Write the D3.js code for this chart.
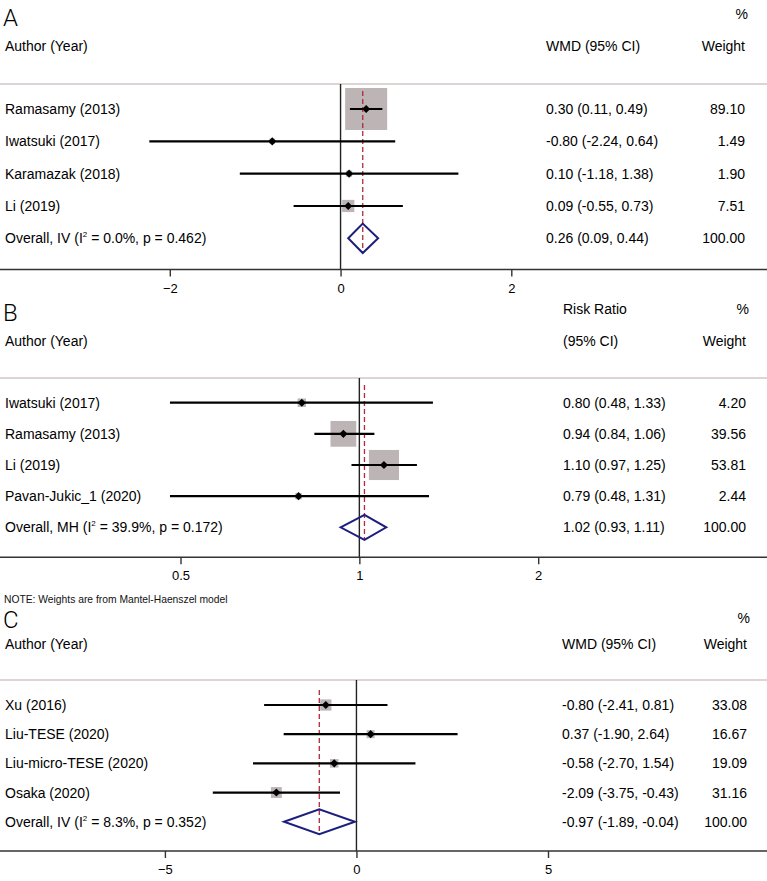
<!DOCTYPE html>
<html><head><meta charset="utf-8">
<script src="https://cdn.jsdelivr.net/npm/d3@7/dist/d3.min.js"></script>
<style>
html,body{margin:0;padding:0;background:#fff;}
svg{display:block;}
</style></head>
<body>
<svg id="chart" width="767" height="881"></svg>
<script>
// ---------- DATA ----------
// Panel A
const panelA_studies = ["Ramasamy (2013)", "Iwatsuki (2017)", "Karamazak (2018)", "Li (2019)"];
const panelA_est = [0.30, -0.80, 0.10, 0.09];
const panelA_lo = [0.11, -2.24, -1.18, -0.55];
const panelA_hi = [0.49, 0.64, 1.38, 0.73];
const panelA_weight = [89.10, 1.49, 1.90, 7.51];
const panelA_overall = [0.26, 0.09, 0.44];           // est, lo, hi
const panelA_overallLabel = ["Overall, IV", "0.0%", "0.462"];
const panelA_ticks = [-2, 0, 2];
const panelA_header = ["WMD (95% CI)"];

// Panel B
const panelB_studies = ["Iwatsuki (2017)", "Ramasamy (2013)", "Li (2019)", "Pavan-Jukic_1 (2020)"];
const panelB_est = [0.80, 0.94, 1.10, 0.79];
const panelB_lo = [0.48, 0.84, 0.97, 0.48];
const panelB_hi = [1.33, 1.06, 1.25, 1.31];
const panelB_weight = [4.20, 39.56, 53.81, 2.44];
const panelB_overall = [1.02, 0.93, 1.11];
const panelB_overallLabel = ["Overall, MH", "39.9%", "0.172"];
const panelB_ticks = [0.5, 1, 2];
const panelB_header = ["Risk Ratio", "(95% CI)"];
const panelB_note = "NOTE: Weights are from Mantel-Haenszel model";

// Panel C
const panelC_studies = ["Xu (2016)", "Liu-TESE (2020)", "Liu-micro-TESE (2020)", "Osaka (2020)"];
const panelC_est = [-0.80, 0.37, -0.58, -2.09];
const panelC_lo = [-2.41, -1.90, -2.70, -3.75];
const panelC_hi = [0.81, 2.64, 1.54, -0.43];
const panelC_weight = [33.08, 16.67, 19.09, 31.16];
const panelC_overall = [-0.97, -1.89, -0.04];
const panelC_overallLabel = ["Overall, IV", "8.3%", "0.352"];
const panelC_ticks = [-5, 0, 5];
const panelC_header = ["WMD (95% CI)"];

// ---------- DRAWING ----------
const FONT = "'Liberation Sans', Arial, Helvetica, sans-serif";
const FS = 14;
const svg = d3.select("#chart");
const W = 767;
const fmt = v => v.toFixed(2);

function drawPanel(p) {
  const g = svg.append("g");
  const n = p.studies.length;
  const x = (p.log ? d3.scaleLog() : d3.scaleLinear()).domain(p.domain).range(p.xRange);
  const y = d3.scalePoint().domain(d3.range(n + 1)).range([p.rowTop, p.rowBot]);

  // panel letter
  g.append("text").attr("x", 3).attr("y", p.letterY)
    .attr("font-family", "Roboto, " + FONT).attr("font-weight", 300)
    .attr("font-size", 24).attr("fill", "#000").text(p.letter);

  // headers
  g.append("text").attr("x", p.wRight + 3).attr("y", p.pctY).attr("text-anchor", "end")
    .attr("font-family", FONT).attr("font-size", FS).text("%");
  g.append("text").attr("x", 5).attr("y", p.hdrY)
    .attr("font-family", FONT).attr("font-size", FS).text("Author (Year)");
  g.append("text").attr("x", p.wRight).attr("y", p.hdrY).attr("text-anchor", "end")
    .attr("font-family", FONT).attr("font-size", FS).text("Weight");
  if (p.header.length === 2) {
    g.append("text").attr("x", p.ciX).attr("y", p.pctY)
      .attr("font-family", FONT).attr("font-size", FS).text(p.header[0]);
    g.append("text").attr("x", p.ciX).attr("y", p.hdrY)
      .attr("font-family", FONT).attr("font-size", FS).text(p.header[1]);
  } else {
    g.append("text").attr("x", p.ciX).attr("y", p.hdrY)
      .attr("font-family", FONT).attr("font-size", FS).text(p.header[0]);
  }

  // separator line
  g.append("line").attr("x1", 0).attr("x2", W).attr("y1", p.sepY).attr("y2", p.sepY)
    .attr("stroke", "#dcd5d3").attr("stroke-width", 2);

  // null line
  g.append("line").attr("x1", x(p.nullV)).attr("x2", x(p.nullV))
    .attr("y1", p.sepY).attr("y2", p.axisY)
    .attr("stroke", "#222").attr("stroke-width", 1.4);

  const idx = d3.range(n);
  // boxes
  g.selectAll(".box").data(idx).join("rect")
    .attr("x", i => x(p.est[i]) - p.boxK * Math.sqrt(p.weight[i]) / 2)
    .attr("y", i => y(i) - p.boxK * Math.sqrt(p.weight[i]) / 2)
    .attr("width", i => p.boxK * Math.sqrt(p.weight[i]))
    .attr("height", i => p.boxK * Math.sqrt(p.weight[i]))
    .attr("fill", "#bdb5b5");

  // overall reference dashed line
  g.append("line").attr("x1", x(p.overall[0])).attr("x2", x(p.overall[0]))
    .attr("y1", p.refTop).attr("y2", p.refBot)
    .attr("stroke", "#b02a3a").attr("stroke-width", 1.3).attr("stroke-dasharray", "5,3");

  // CI lines
  g.selectAll(".ci").data(idx).join("line")
    .attr("x1", i => x(p.lo[i])).attr("x2", i => x(p.hi[i]))
    .attr("y1", i => y(i)).attr("y2", i => y(i))
    .attr("stroke", "#000").attr("stroke-width", 2.2);

  // markers
  g.selectAll(".pt").data(idx).join("path")
    .attr("transform", i => `translate(${x(p.est[i])},${y(i)})`)
    .attr("d", d3.symbol(d3.symbolDiamond2, 42))
    .attr("fill", "#000");

  // overall diamond
  const oy = y(n);
  const dpath = d3.line()([
    [x(p.overall[1]), oy], [x(p.overall[0]), oy - p.diaH],
    [x(p.overall[2]), oy], [x(p.overall[0]), oy + p.diaH]
  ]) + "Z";
  g.append("path").attr("d", dpath).attr("fill", "none")
    .attr("stroke", "#1c1f7e").attr("stroke-width", 2);

  // study labels & stats
  idx.forEach(i => {
    g.append("text").attr("x", 5).attr("y", y(i) + 5)
      .attr("font-family", FONT).attr("font-size", FS).text(p.studies[i]);
    g.append("text").attr("x", p.ciX).attr("y", y(i) + 5)
      .attr("font-family", FONT).attr("font-size", FS)
      .text(`${fmt(p.est[i])} (${fmt(p.lo[i])}, ${fmt(p.hi[i])})`);
    g.append("text").attr("x", p.wRight).attr("y", y(i) + 5).attr("text-anchor", "end")
      .attr("font-family", FONT).attr("font-size", FS).text(fmt(p.weight[i]));
  });
  // overall text
  const ot = g.append("text").attr("x", 5).attr("y", oy + 5)
    .attr("font-family", FONT).attr("font-size", FS);
  ot.append("tspan").text(`${p.overallLabel[0]} (I`);
  ot.append("tspan").attr("font-size", 8).attr("dy", -6).text("2");
  ot.append("tspan").attr("dy", 6).text(` = ${p.overallLabel[1]}, p = ${p.overallLabel[2]})`);
  g.append("text").attr("x", p.ciX).attr("y", oy + 5)
    .attr("font-family", FONT).attr("font-size", FS)
    .text(`${fmt(p.overall[0])} (${fmt(p.overall[1])}, ${fmt(p.overall[2])})`);
  g.append("text").attr("x", p.wRight).attr("y", oy + 5).attr("text-anchor", "end")
    .attr("font-family", FONT).attr("font-size", FS).text("100.00");

  // axis
  const ax = g.append("g").attr("transform", `translate(0,${p.axisY})`)
    .call(d3.axisBottom(x).tickValues(p.ticks).tickFormat(d3.format("~g")).tickSize(7));
  ax.select(".domain").remove();
  ax.selectAll(".tick line").attr("stroke", "#333").attr("stroke-width", 1.4);
  ax.selectAll(".tick text").attr("font-family", FONT).attr("font-size", 13)
    .attr("fill", "#000").attr("dy", null).attr("y", 23);
  g.append("line").attr("x1", 0).attr("x2", W).attr("y1", p.axisY).attr("y2", p.axisY)
    .attr("stroke", "#333").attr("stroke-width", 1.6);
}

drawPanel({
  letter: "A", studies: panelA_studies, est: panelA_est, lo: panelA_lo, hi: panelA_hi,
  weight: panelA_weight, overall: panelA_overall, overallLabel: panelA_overallLabel,
  ticks: panelA_ticks, header: panelA_header,
  domain: [-2, 2], xRange: [169.8, 511.3], log: false, nullV: 0,
  letterY: 26, pctY: 19, hdrY: 50.5, sepY: 84, rowTop: 109, rowBot: 238.3, axisY: 269.5,
  ciX: 546, wRight: 745, boxK: 4.45, diaH: 14.7, refTop: 91, refBot: 253
});
drawPanel({
  letter: "B", studies: panelB_studies, est: panelB_est, lo: panelB_lo, hi: panelB_hi,
  weight: panelB_weight, overall: panelB_overall, overallLabel: panelB_overallLabel,
  ticks: panelB_ticks, header: panelB_header,
  domain: [0.5, 2], xRange: [180.5, 538.2], log: true, nullV: 1,
  letterY: 321, pctY: 314, hdrY: 346, sepY: 378, rowTop: 402.7, rowBot: 527.3, axisY: 557.3,
  ciX: 563, wRight: 746, boxK: 4.1, diaH: 12.5, refTop: 385, refBot: 539
});
svg.append("text").attr("x", 4).attr("y", 602.5)
  .attr("font-family", FONT).attr("font-size", 10.3).attr("fill", "#111").text(panelB_note);
drawPanel({
  letter: "C", studies: panelC_studies, est: panelC_est, lo: panelC_lo, hi: panelC_hi,
  weight: panelC_weight, overall: panelC_overall, overallLabel: panelC_overallLabel,
  ticks: panelC_ticks, header: panelC_header,
  domain: [-5, 5], xRange: [164.9, 548], log: false, nullV: 0,
  letterY: 628, pctY: 623, hdrY: 649, sepY: 680, rowTop: 705, rowBot: 821.7, axisY: 851,
  ciX: 562, wRight: 747, boxK: 1.95, diaH: 12.5, refTop: 690, refBot: 834
});
</script>
</body></html>
